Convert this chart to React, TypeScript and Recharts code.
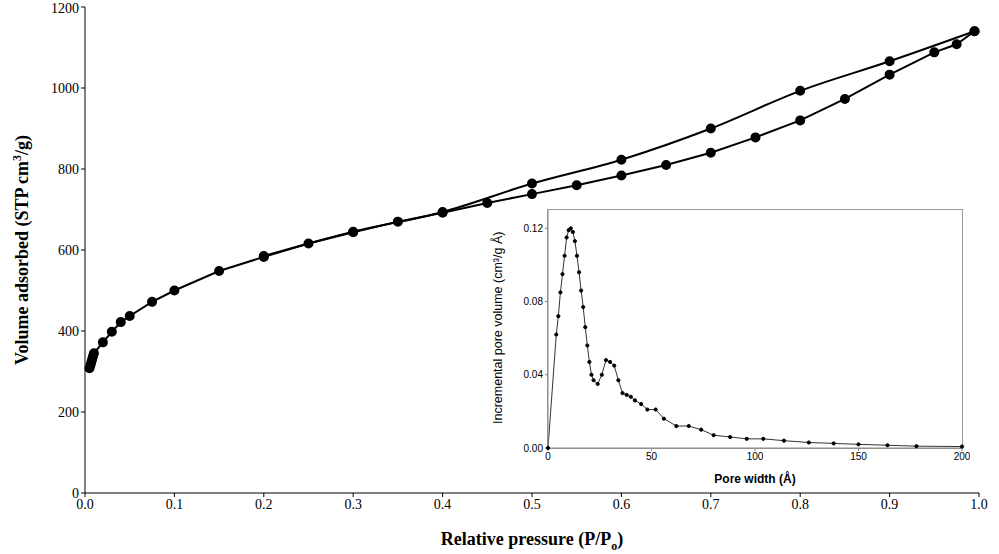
import React from 'react';
import { ComposedChart, LineChart, Line, XAxis, YAxis } from 'recharts';

const adsP = [0.005, 0.006, 0.007, 0.008, 0.009, 0.01, 0.02, 0.03, 0.04, 0.05, 0.075, 0.1, 0.15, 0.2, 0.25, 0.3, 0.35, 0.4, 0.45, 0.5, 0.55, 0.6, 0.65, 0.7, 0.75, 0.8, 0.85, 0.9, 0.95, 0.975, 0.995];
const adsV = [308, 315, 322, 330, 338, 345, 372, 398, 422, 437, 472, 500, 548, 583, 616, 644, 670, 692, 716, 738, 760, 784, 810, 840, 878, 920, 973, 1033, 1088, 1108, 1140];
const desP = [0.995, 0.9, 0.8, 0.7, 0.6, 0.5, 0.4, 0.3, 0.2];
const desV = [1140, 1066, 993, 900, 823, 764, 694, 645, 585];

const poreW = [0, 4, 5, 6, 7, 8, 9, 10, 11, 12, 13, 14, 15, 16, 17, 18, 19, 20, 21, 22, 24, 26, 28, 30, 32, 34, 36, 38, 40, 42, 45, 48, 52, 56, 62, 68, 74, 80, 88, 96, 104, 114, 126, 138, 150, 164, 178, 200];
const poreV = [0, 0.062, 0.072, 0.085, 0.095, 0.105, 0.115, 0.119, 0.12, 0.118, 0.113, 0.105, 0.096, 0.086, 0.077, 0.066, 0.056, 0.047, 0.04, 0.037, 0.035, 0.04, 0.048, 0.047, 0.045, 0.037, 0.03, 0.029, 0.028, 0.026, 0.024, 0.021, 0.021, 0.016, 0.012, 0.012, 0.01, 0.007, 0.006, 0.005, 0.005, 0.004, 0.003, 0.0025, 0.002, 0.0015, 0.001, 0.0008];

const xTicks = [0, 0.1, 0.2, 0.3, 0.4, 0.5, 0.6, 0.7, 0.8, 0.9, 1];
const yTicks = [0, 200, 400, 600, 800, 1000, 1200];
const inXTicks = [0, 50, 100, 150, 200];
const inYTicks = [0, 0.04, 0.08, 0.12];

const ads = adsP.map((p, i) => ({ p, v: adsV[i] }));
const des = desP.map((p, i) => ({ p, v: desV[i] }));
const pore = poreW.map((w, i) => ({ w, v: poreV[i] }));

const serif = '"Liberation Serif", "Times New Roman", serif';
const sans = '"Liberation Sans", Arial, sans-serif';

const XLabel = ({ viewBox }: any) => (
  <text x={viewBox.x + viewBox.width / 2} y={viewBox.y + 52} textAnchor="middle"
    fontFamily={serif} fontWeight="bold" fontSize={18} fill="#000">
    Relative pressure (P/P<tspan fontSize={12} dy={5}>o</tspan><tspan dy={-5}>)</tspan>
  </text>
);

const YLabel = ({ viewBox }: any) => {
  const cx = 28, cy = viewBox.y + viewBox.height / 2;
  return (
    <text x={cx} y={cy} transform={`rotate(-90 ${cx} ${cy})`} textAnchor="middle"
      fontFamily={serif} fontWeight="bold" fontSize={18} fill="#000">
      Volume adsorbed (STP cm<tspan fontSize={12} dy={-7}>3</tspan><tspan dy={7}>/g)</tspan>
    </text>
  );
};

export default function App() {
  return (
    <div style={{ position: 'absolute', left: 0, top: 0, width: 999, height: 554, background: '#fff' }}>
      <ComposedChart width={999} height={554} margin={{ top: 7, right: 20, bottom: 0, left: 0 }}>
        <XAxis dataKey="p" type="number" domain={[0, 1]} ticks={xTicks} height={61}
          tickFormatter={(t: number) => t.toFixed(1)} allowDuplicatedCategory={false}
          stroke="#000" tick={{ fill: '#000', fontFamily: serif, fontSize: 14 }} tickSize={4}
          label={<XLabel />} />
        <YAxis type="number" domain={[0, 1200]} ticks={yTicks} width={85}
          stroke="#000" tick={{ fill: '#000', fontFamily: serif, fontSize: 14 }} tickSize={4}
          label={<YLabel />} />
        <Line data={ads} dataKey="v" type="linear" stroke="#000" strokeWidth={2}
          dot={{ r: 4, fill: '#000', stroke: '#000' }} isAnimationActive={false} />
        <Line data={des} dataKey="v" type="monotone" stroke="#000" strokeWidth={2}
          dot={{ r: 4, fill: '#000', stroke: '#000' }} isAnimationActive={false} />
      </ComposedChart>
      <div style={{ position: 'absolute', left: 490, top: 205, width: 480, height: 285 }}>
        <div style={{ position: 'absolute', left: 58, top: 5, width: 414, height: 238, background: '#fff', outline: '1px solid #999', boxSizing: 'border-box' }} />
        <div style={{ position: 'absolute', left: 0, top: 0 }}>
          <LineChart width={480} height={285} data={pore} margin={{ top: 5, right: 8, bottom: 7, left: 0 }}>
            <XAxis dataKey="w" type="number" domain={[0, 200]} ticks={inXTicks} height={35}
              stroke="#888" tick={{ fill: '#000', fontFamily: sans, fontSize: 10 }} tickSize={3}
              label={{ value: 'Pore width (Å)', position: 'insideBottom', offset: 0, fill: '#000', fontFamily: sans, fontSize: 12, fontWeight: 'bold' }} />
            <YAxis type="number" domain={[0, 0.13]} ticks={inYTicks} width={58}
              tickFormatter={(t: number) => t.toFixed(2)}
              stroke="#888" tick={{ fill: '#000', fontFamily: sans, fontSize: 10 }} tickSize={3}
              label={{ value: 'Incremental pore volume (cm³/g Å)', angle: -90, position: 'insideLeft', offset: 8, dy: 95, fill: '#000', fontFamily: sans, fontSize: 12.5 }} />
            <Line dataKey="v" type="linear" stroke="#333" strokeWidth={1}
              dot={{ r: 1.6, fill: '#000', stroke: '#000' }} isAnimationActive={false} />
          </LineChart>
        </div>
      </div>
    </div>
  );
}
